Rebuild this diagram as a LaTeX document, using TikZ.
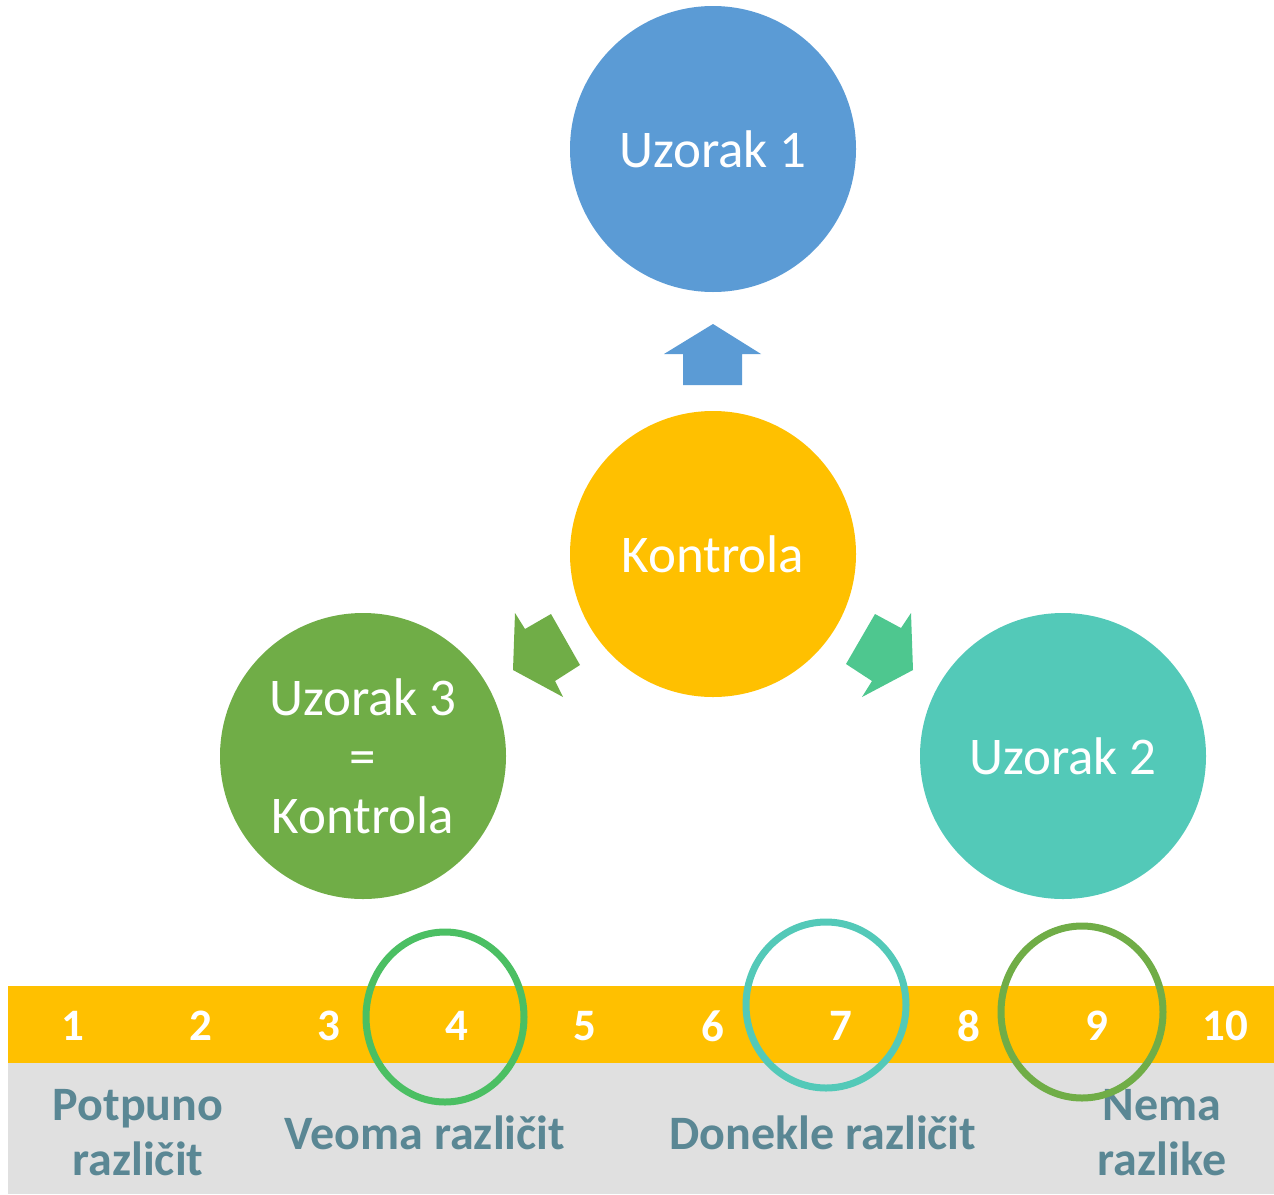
\documentclass[tikz,border=0pt]{standalone}
\usepackage{fontspec}
\setmainfont{Carlito}
\definecolor{cblue}{HTML}{5B9BD5}
\definecolor{cyellow}{HTML}{FFC000}
\definecolor{cgreen}{HTML}{70AD47}
\definecolor{cteal}{HTML}{53C9B8}
\definecolor{carrowteal}{HTML}{4EC78F}
\definecolor{cring}{HTML}{4BBF63}
\definecolor{cgray}{HTML}{E0E0E0}
\definecolor{clabel}{HTML}{5A8794}
\begin{document}
\begin{tikzpicture}[x=1pt,y=-1pt,
  bubble/.style={circle,minimum size=286pt,inner sep=0pt,text=white,align=center,
    font=\fontsize{53}{59}\selectfont},
  num/.style={text=white,font=\bfseries\fontsize{45}{50}\selectfont},
  lbl/.style={text=clabel,align=center,font=\bfseries\fontsize{48}{55}\selectfont},
  ring/.style={draw,line width=7pt}]
\useasboundingbox (0,0) rectangle (1274,1194);
% bar
\fill[cyellow] (8,986) rectangle (1274,1063);
\fill[cgray] (8,1063) rectangle (1274,1194);
% bubbles
\node[bubble,fill=cblue] (u1) at (713,149) {Uzorak 1};
\node[bubble,fill=cyellow] (k) at (713,554) {Kontrola};
\node[bubble,fill=cgreen] (u3) at (363,756) {Uzorak 3\\=\\Kontrola};
\node[bubble,fill=cteal] (u2) at (1063,756) {Uzorak 2};
% block arrows
\fill[cblue] (713,324) -- (761,354) -- (742,354) -- (742,385) -- (683,385) -- (683,354) -- (664,354) -- cycle;
\fill[cgreen] (513,670) -- (515,613) -- (525,629) -- (551,614) -- (580,665) -- (555,681) -- (563,697) -- cycle;
\fill[carrowteal] (913,670) -- (911,613) -- (901,628) -- (875,614) -- (846,664) -- (872,681) -- (862,697) -- cycle;
% numbers
\foreach \i in {1,...,10} {
  \node[num] (n\i) at ({73+128*(\i-1)},1026) {\i};
}
% labels
\node[lbl] (l1) at (138,1133) {Potpuno\\različit};
\node[lbl] (l2) at (425,1133) {Veoma različit};
\node[lbl] (l3) at (823,1133) {Donekle različit};
\node[lbl] (l4) at (1162,1133) {Nema\\razlike};
% rings
\draw[ring,cring] (445,1017) ellipse [x radius=79, y radius=85];
\draw[ring,cteal] (826,1005) ellipse [x radius=80, y radius=83];
\draw[ring,cgreen] (1082,1012) ellipse [x radius=81, y radius=86];
\end{tikzpicture}
\end{document}
